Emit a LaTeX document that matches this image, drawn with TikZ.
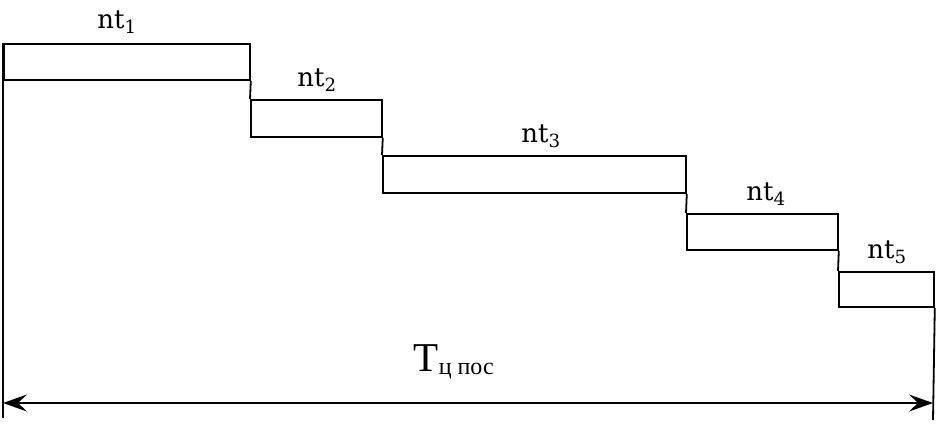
\documentclass[tikz,border=0pt]{standalone}
\usepackage{fontspec}
\setmainfont{DejaVu Serif}
\newfontfamily\timesfont{Liberation Serif}
\usepackage{tikz}
\usetikzlibrary{positioning, arrows.meta}

\begin{document}
\begin{tikzpicture}[x=1pt, y=-1pt, line width=1.8pt,
  every node/.style={inner sep=0pt},
  stage/.style={rectangle,draw,anchor=north west},
  ntlabel/.style={font=\fontsize{26}{28}\selectfont}]
  \useasboundingbox (0,0) rectangle (946,424);
  \node[stage,minimum width=246pt,minimum height=36pt] (b1) at (3,43) {};
  \node[stage,minimum width=131pt,minimum height=37pt] (b2) at (250,99) {};
  \node[stage,minimum width=303pt,minimum height=37pt] (b3) at (382,155) {};
  \node[stage,minimum width=151pt,minimum height=36pt] (b4) at (686,213) {};
  \node[stage,minimum width=95pt,minimum height=35pt] (b5) at (838,271) {};
  \node[ntlabel] (l1) at (117,22) {nt\textsubscript{1}};
  \node[ntlabel] (l2) at (317,80) {nt\textsubscript{2}};
  \node[ntlabel] (l3) at (541,136) {nt\textsubscript{3}};
  \node[ntlabel] (l4) at (766,194) {nt\textsubscript{4}};
  \node[ntlabel] (l5) at (887,252) {nt\textsubscript{5}};
  \draw (b1.south east) -- (b2.north west);
  \draw (b2.south east) -- (b3.north west);
  \draw (b3.south east) -- (b4.north west);
  \draw (b4.south east) -- (b5.north west);
  \coordinate (lb) at (3,418);
  \coordinate (rb) at (933,420);
  \draw (b1.north west) -- (lb);
  \draw (b5.south east) -- (rb);
  \coordinate (al) at (3,403);
  \coordinate (ar) at (933,403);
  \draw[{Stealth[length=24pt,width=17pt,inset=9pt]}-{Stealth[length=24pt,width=17pt,inset=9pt]}] (al) -- (ar);
  \node[font=\timesfont\fontsize{41}{44}\selectfont] (tp) at (454,362) {T\textsubscript{\fontsize{24}{26}\selectfont ц пос}};
\end{tikzpicture}
\end{document}
